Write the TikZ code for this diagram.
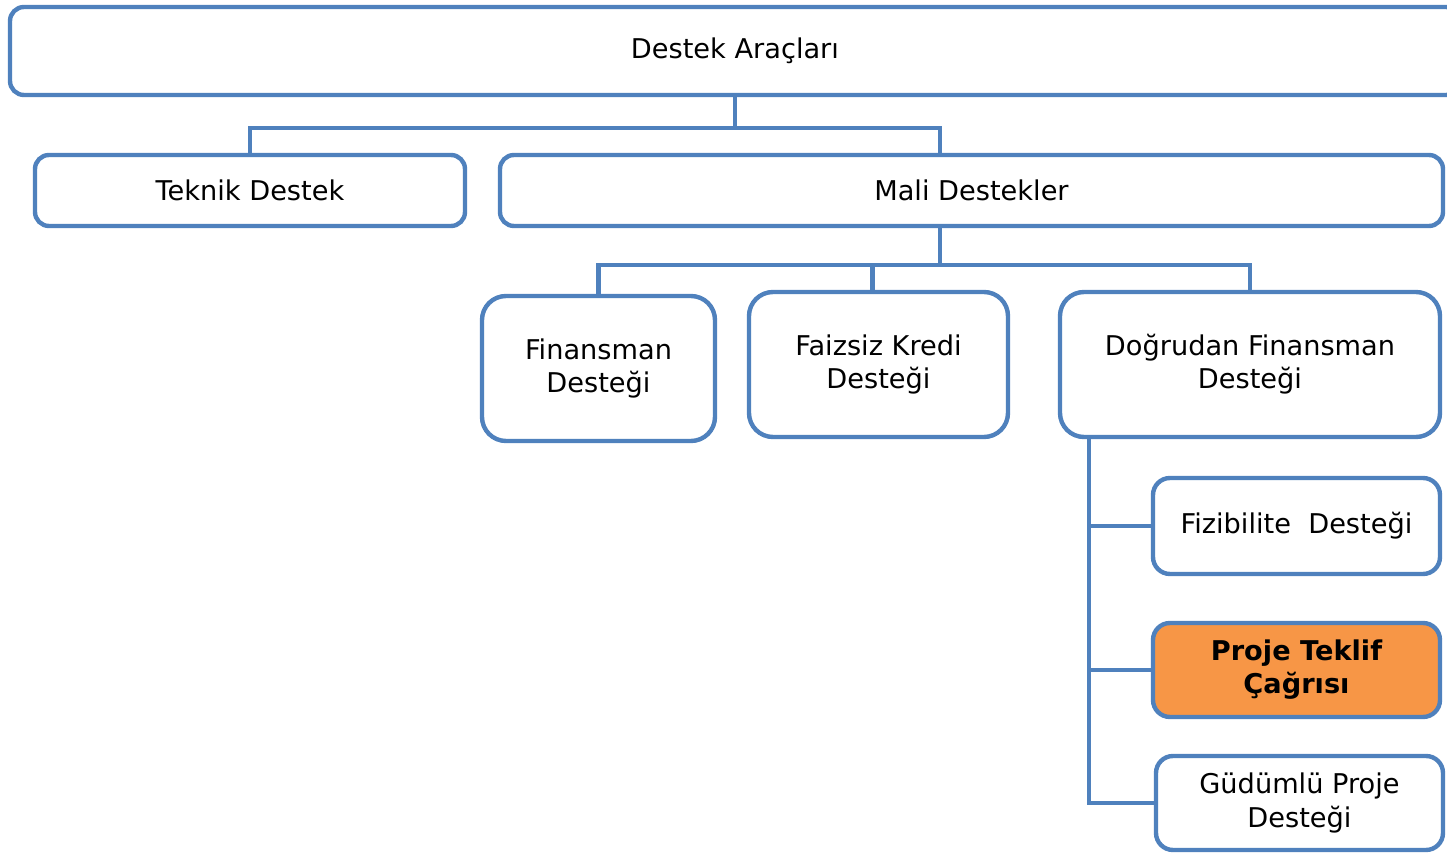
\documentclass[tikz,border=0pt]{standalone}
\usepackage{fontspec}
\setmainfont{DejaVu Sans}
\usetikzlibrary{positioning}
\definecolor{box_blue}{HTML}{4F81BD}
\definecolor{box_orange}{HTML}{F79646}

\begin{document}
\begin{tikzpicture}[x=0.5pt, y=-0.5pt,
rounded_square/.style={rectangle, draw=box_blue, fill=white, line width=2.2pt, align=center, inner sep=3pt, font=\fontsize{13.6}{16.6}\selectfont},
flat_square/.style={rounded_square, rounded corners=7pt},
tall_square/.style={rounded_square, rounded corners=12pt},
mid_square/.style={rounded_square, rounded corners=8.5pt},
orange_square/.style={mid_square, fill=box_orange, font=\fontsize{13.6}{16.6}\selectfont\bfseries},
tree_line/.style={draw=box_blue, line width=2.2pt}
]
\useasboundingbox (0,0) rectangle (1447,854);

% \node[type](name_of_node) at (x,y) {node_text}; coordinates are pixels of the sheet, sizes in pt
\node[flat_square, minimum width=725pt, minimum height=44pt](destek) at (735,51) {Destek Araçları};

\node[flat_square, minimum width=215pt, minimum height=35.5pt](teknik) at (250,190.5) {Teknik Destek};
\node[flat_square, minimum width=471.5pt, minimum height=35.5pt](mali) at (971.5,190.5) {Mali Destekler};

\node[tall_square, minimum width=116.5pt, minimum height=72.5pt](finansman) at (598.5,368.5) {Finansman\\Desteği};
\node[tall_square, minimum width=129.5pt, minimum height=72.5pt](faizsiz) at (878.5,364.5) {Faizsiz Kredi\\Desteği};
\node[tall_square, minimum width=190pt, minimum height=72.5pt](dogrudan) at (1250,364.5) {Doğrudan Finansman\\Desteği};

\node[mid_square, minimum width=143.5pt, minimum height=48pt](fizibilite) at (1296.5,526) {Fizibilite~~Desteği};
\node[orange_square, minimum width=143.5pt, minimum height=47pt](proje) at (1296.5,670) {Proje Teklif\\Çağrısı};
\node[mid_square, minimum width=143.5pt, minimum height=47pt](gudumlu) at (1299.5,803) {Güdümlü Proje\\Desteği};

% \draw[tree_line](name_of_node.direction) |- (coordinate) -| (name_of_node.direction)
\coordinate (bus_1) at (735,128);
\coordinate (bus_2) at (940,265);
\coordinate (trunk) at ([xshift=15.5pt]dogrudan.south west);

\draw[tree_line](destek.south) -- (bus_1);
\draw[tree_line](teknik.north) |- (bus_1) -| ([xshift=-15.75pt]mali.north);

\draw[tree_line]([xshift=-15.75pt]mali.south) -- (bus_2);
\draw[tree_line](finansman.north) |- (bus_2) -| (dogrudan.north);
\draw[tree_line]([xshift=-3pt]faizsiz.north) -- ([xshift=-3pt]faizsiz.north |- bus_2);

\draw[tree_line](trunk) |- (gudumlu.west);
\draw[tree_line](trunk |- fizibilite.west) -- (fizibilite.west);
\draw[tree_line](trunk |- proje.west) -- (proje.west);
\end{tikzpicture}
\end{document}
